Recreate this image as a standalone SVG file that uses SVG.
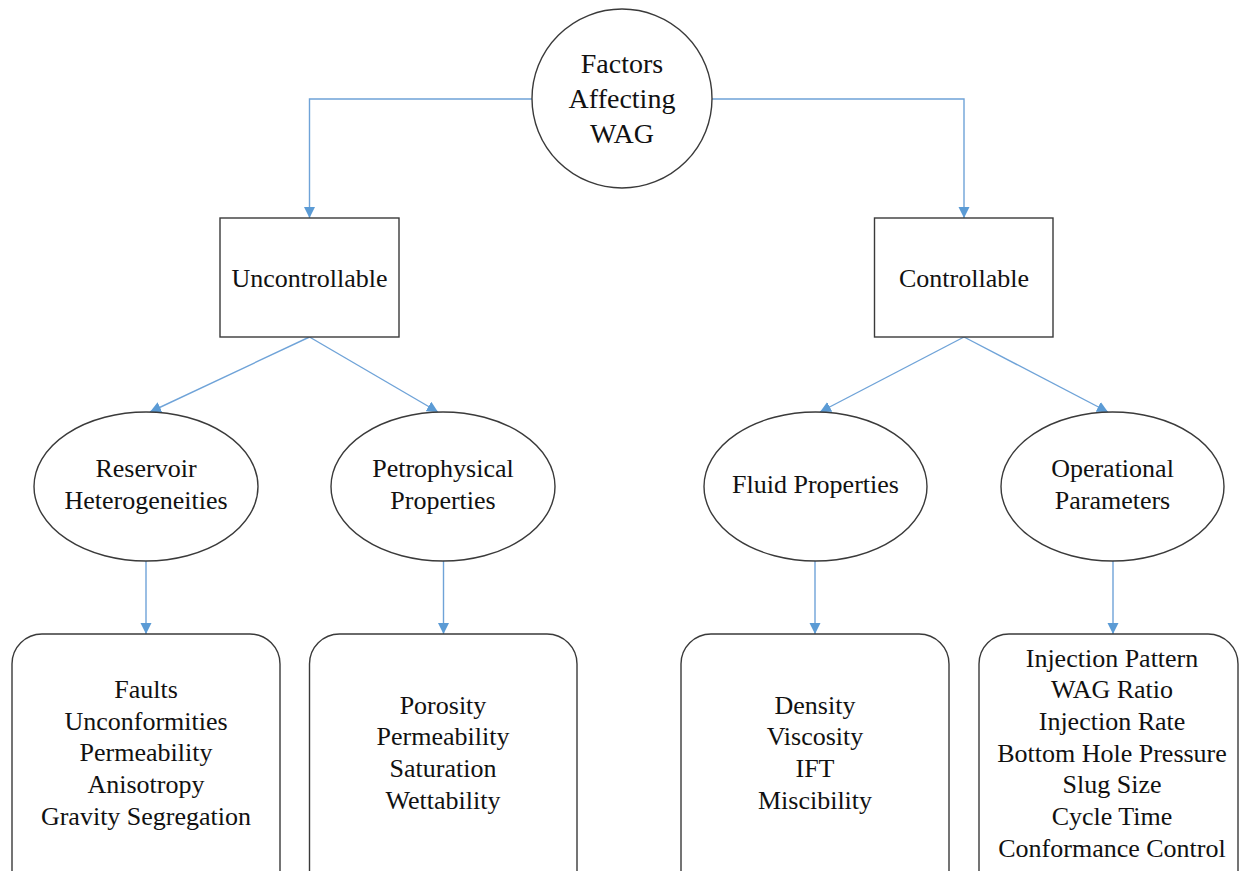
<svg xmlns="http://www.w3.org/2000/svg" width="1243" height="871" viewBox="0 0 1243 871">
  <style>
    .shape { fill: #ffffff; stroke: #3a3a3a; stroke-width: 1.4; }
    .conn { fill: none; stroke: #6fa3d8; stroke-width: 1.4; }
    text { font-family: "Liberation Serif", "Times New Roman", serif; fill: #111111; text-anchor: middle; }
    .t28 { font-size: 28px; }
    .t26 { font-size: 26px; }
    .t25 { font-size: 26px; }
  </style>
  <defs>
    <marker id="arrow" markerUnits="userSpaceOnUse" markerWidth="12" markerHeight="12" refX="11" refY="5.5" orient="auto">
      <path d="M0,0 L11,5.5 L0,11 z" fill="#5b9bd5"/>
    </marker>
  </defs>
  <rect width="1243" height="871" fill="#ffffff"/>

  <g id="connectors">
    <path class="conn" d="M532,99 H309.5 V218" marker-end="url(#arrow)"/>
    <path class="conn" d="M712,99 H964 V218" marker-end="url(#arrow)"/>
    <path class="conn" d="M309.5,337 L150,412" marker-end="url(#arrow)"/>
    <path class="conn" d="M309.5,337 L438,412" marker-end="url(#arrow)"/>
    <path class="conn" d="M964,337 L820,412" marker-end="url(#arrow)"/>
    <path class="conn" d="M964,337 L1108,412" marker-end="url(#arrow)"/>
    <path class="conn" d="M146,561 V634" marker-end="url(#arrow)"/>
    <path class="conn" d="M443.5,561 V634" marker-end="url(#arrow)"/>
    <path class="conn" d="M815,561 V634" marker-end="url(#arrow)"/>
    <path class="conn" d="M1113,561 V634" marker-end="url(#arrow)"/>
  </g>

  <g id="node-root">
    <ellipse class="shape" cx="622" cy="98.5" rx="90" ry="89.5"/>
    <text class="t28" x="622" y="73">Factors</text>
    <text class="t28" x="622" y="108">Affecting</text>
    <text class="t28" x="622" y="143">WAG</text>
  </g>

  <g id="node-uncontrollable">
    <rect class="shape" x="220" y="218" width="179" height="119"/>
    <text class="t26" x="309.5" y="287">Uncontrollable</text>
  </g>

  <g id="node-controllable">
    <rect class="shape" x="874.5" y="218" width="178.5" height="119"/>
    <text class="t26" x="964" y="287">Controllable</text>
  </g>

  <g id="node-reservoir">
    <ellipse class="shape" cx="146" cy="486.5" rx="112" ry="74.5"/>
    <text class="t26" x="146" y="477">Reservoir</text>
    <text class="t26" x="146" y="509">Heterogeneities</text>
  </g>

  <g id="node-petrophysical">
    <ellipse class="shape" cx="443" cy="486.5" rx="112" ry="74.5"/>
    <text class="t26" x="443" y="477">Petrophysical</text>
    <text class="t26" x="443" y="509">Properties</text>
  </g>

  <g id="node-fluid">
    <ellipse class="shape" cx="815.5" cy="486.5" rx="111.5" ry="74.5"/>
    <text class="t26" x="815.5" y="493">Fluid Properties</text>
  </g>

  <g id="node-operational">
    <ellipse class="shape" cx="1112.5" cy="486.5" rx="111.5" ry="74.5"/>
    <text class="t26" x="1112.5" y="477">Operational</text>
    <text class="t26" x="1112.5" y="509">Parameters</text>
  </g>

  <g id="node-reservoir-list">
    <rect class="shape" x="12" y="634" width="268" height="290" rx="30" ry="30"/>
    <text class="t25" x="146" y="698">Faults</text>
    <text class="t25" x="146" y="729.7">Unconformities</text>
    <text class="t25" x="146" y="761.4">Permeability</text>
    <text class="t25" x="146" y="793.1">Anisotropy</text>
    <text class="t25" x="146" y="824.8">Gravity Segregation</text>
  </g>

  <g id="node-petrophysical-list">
    <rect class="shape" x="309.5" y="634" width="267.5" height="290" rx="30" ry="30"/>
    <text class="t25" x="443" y="713.5">Porosity</text>
    <text class="t25" x="443" y="745.2">Permeability</text>
    <text class="t25" x="443" y="776.9">Saturation</text>
    <text class="t25" x="443" y="808.6">Wettability</text>
  </g>

  <g id="node-fluid-list">
    <rect class="shape" x="681" y="634" width="268" height="290" rx="30" ry="30"/>
    <text class="t25" x="815" y="713.5">Density</text>
    <text class="t25" x="815" y="745.2">Viscosity</text>
    <text class="t25" x="815" y="776.9">IFT</text>
    <text class="t25" x="815" y="808.6">Miscibility</text>
  </g>

  <g id="node-operational-list">
    <rect class="shape" x="979" y="634" width="259" height="290" rx="30" ry="30"/>
    <text class="t25" x="1112" y="666.5">Injection Pattern</text>
    <text class="t25" x="1112" y="698.2">WAG Ratio</text>
    <text class="t25" x="1112" y="729.9">Injection Rate</text>
    <text class="t25" x="1112" y="761.6">Bottom Hole Pressure</text>
    <text class="t25" x="1112" y="793.3">Slug Size</text>
    <text class="t25" x="1112" y="825">Cycle Time</text>
    <text class="t25" x="1112" y="856.7">Conformance Control</text>
  </g>
</svg>
